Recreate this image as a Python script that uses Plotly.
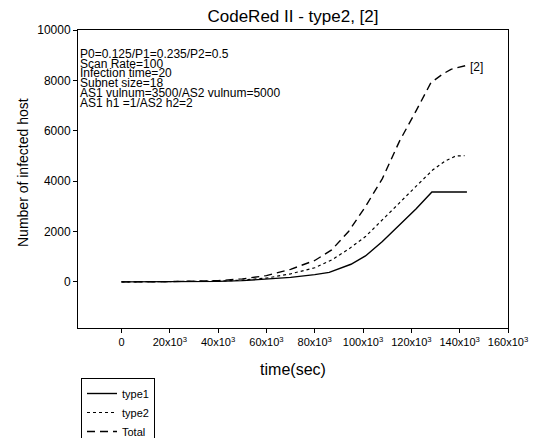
import plotly.graph_objects as go

# time (sec)
t1 = [0, 20000, 40000, 50000, 60000, 70000, 80000, 86000, 95000, 101000, 108000, 115000, 122000, 128500, 143000]
type1 = [0, 5, 20, 50, 100, 180, 290, 380, 700, 1030, 1600, 2260, 2900, 3570, 3570]

t2 = [0, 20000, 40000, 50000, 60000, 70000, 80000, 87000, 94000, 101000, 108000, 115000, 122000, 128800, 134000, 138400, 142000]
type2 = [0, 5, 30, 70, 150, 320, 560, 870, 1300, 1800, 2450, 3130, 3800, 4440, 4800, 5000, 5010]

t3 = [0, 20000, 40000, 50000, 60000, 70000, 80000, 87000, 94000, 101000, 108000, 115000, 122000, 128100, 133000, 136400, 143000]
total = [0, 10, 50, 120, 250, 500, 850, 1270, 2000, 2990, 4100, 5570, 6800, 7910, 8250, 8440, 8600]

xticks = [0, 20000, 40000, 60000, 80000, 100000, 120000, 140000, 160000]
xticklabels = ["0"] + [f"{v // 1000}x10<sup>3</sup>" for v in xticks[1:]]
yticks = [0, 2000, 4000, 6000, 8000, 10000]
yticklabels = [str(v) for v in yticks]

info_lines = [
    "P0=0.125/P1=0.235/P2=0.5",
    "Scan Rate=100",
    "Infection time=20",
    "Subnet size=18",
    "AS1 vulnum=3500/AS2 vulnum=5000",
    "AS1 h1 =1/AS2 h2=2",
]

fig = go.Figure()
fig.add_trace(go.Scatter(x=t1, y=type1, mode="lines", name="type1",
                         line=dict(color="black", width=1.4, dash="solid")))
fig.add_trace(go.Scatter(x=t2, y=type2, mode="lines", name="type2",
                         line=dict(color="black", width=1.2, dash="dot")))
fig.add_trace(go.Scatter(x=t3, y=total, mode="lines", name="Total",
                         line=dict(color="black", width=1.4, dash="8px,5px")))

fig.add_annotation(x=t3[-1], y=total[-1], xref="x", yref="y", text="[2]",
                   showarrow=False, xanchor="left", xshift=1, yshift=-2,
                   font=dict(size=12, color="black"))

for i, line in enumerate(info_lines):
    fig.add_annotation(x=0, y=1, xref="paper", yref="paper", xanchor="left", yanchor="top",
                       xshift=1, yshift=-16 - 9.7 * i, align="left", showarrow=False,
                       text=line, borderpad=0,
                       font=dict(size=12, color="black", family="Liberation Sans"))

# y-axis title
fig.add_annotation(x=0, y=0.5, xref="paper", yref="paper", xanchor="center", yanchor="middle",
                   xshift=-55, yshift=6, textangle=-90, showarrow=False,
                   text="Number of infected host",
                   font=dict(size=14, color="black", family="Liberation Sans"))

fig.update_layout(
    width=539, height=438,
    margin=dict(l=78, r=31, t=30, b=110, autoexpand=False),
    paper_bgcolor="white", plot_bgcolor="white",
    font=dict(family="Liberation Sans", color="black", size=11),
    title=dict(text="CodeRed II - type2, [2]", x=0.5, xref="paper", xanchor="center",
               y=1 - 16 / 438, yref="container", yanchor="middle", font=dict(size=17)),
    showlegend=True,
    legend=dict(x=81 / 539, y=1 - 378 / 438, xref="container", yref="container",
                xanchor="left", yanchor="top",
                bordercolor="black", borderwidth=1, bgcolor="white",
                font=dict(size=11), tracegroupgap=0, itemwidth=30),
    xaxis=dict(range=[-18000, 160000], tickvals=xticks, ticktext=xticklabels,
               showgrid=False, zeroline=False, showline=True, linecolor="black",
               linewidth=1, mirror=True, ticks="outside", ticklen=4,
               tickcolor="black", automargin=True, tickfont=dict(size=11),
               title=dict(text="time(sec)", font=dict(size=16), standoff=16)),
    yaxis=dict(range=[-1830, 10000], tickvals=yticks, ticktext=yticklabels,
               showgrid=False, zeroline=False, showline=True, linecolor="black",
               linewidth=1, mirror=True, ticks="outside", ticklen=4,
               tickcolor="black", automargin=False, tickfont=dict(size=12)),
)

fig.write_html("out.html", config={"displayModeBar": False},
               post_script="document.body.style.margin='0';document.body.style.padding='0';")
